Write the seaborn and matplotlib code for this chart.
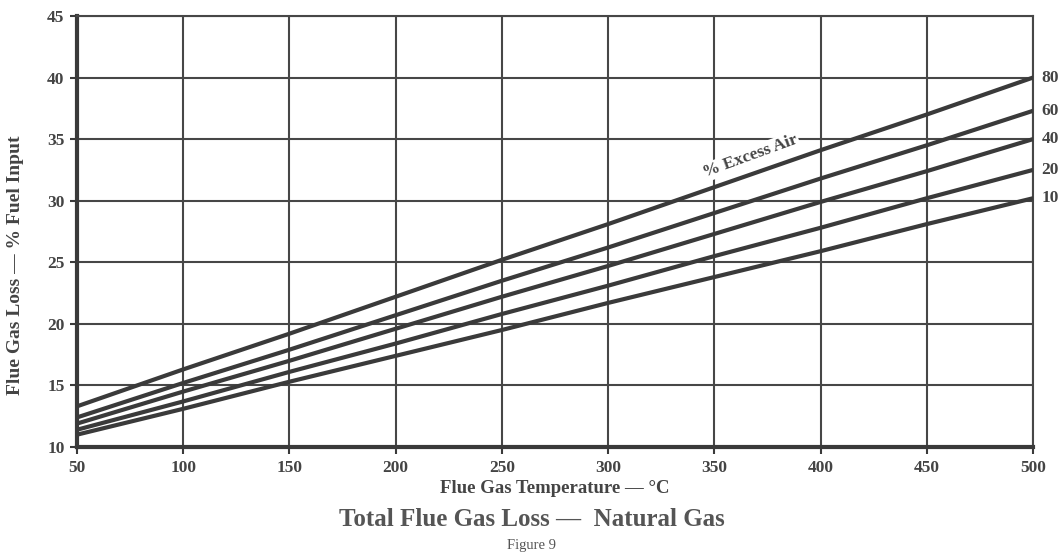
import numpy as np
import pandas as pd
import matplotlib
matplotlib.use("Agg")
import matplotlib.pyplot as plt
import seaborn as sns

# ---- data ----
temperature = [50, 100, 150, 200, 250, 300, 350, 400, 450, 500]
excess_air_levels = ["80", "60", "40", "20", "10"]
loss_80 = [13.3, 16.3, 19.2, 22.2, 25.2, 28.1, 31.1, 34.1, 37.0, 40.0]
loss_60 = [12.4, 15.2, 17.9, 20.7, 23.5, 26.2, 29.0, 31.8, 34.5, 37.3]
loss_40 = [11.9, 14.5, 17.0, 19.6, 22.2, 24.7, 27.3, 29.9, 32.4, 35.0]
loss_20 = [11.4, 13.7, 16.1, 18.4, 20.8, 23.1, 25.5, 27.8, 30.2, 32.5]
loss_10 = [11.0, 13.1, 15.3, 17.4, 19.5, 21.7, 23.8, 25.9, 28.1, 30.2]
x_ticks = [50, 100, 150, 200, 250, 300, 350, 400, 450, 500]
y_ticks = [10, 15, 20, 25, 30, 35, 40, 45]

series = {"80": loss_80, "60": loss_60, "40": loss_40, "20": loss_20, "10": loss_10}
df = pd.concat(
    [pd.DataFrame({"temp": temperature, "loss": vals, "air": k}) for k, vals in series.items()],
    ignore_index=True,
)

sns.set_theme(style="white")
plt.rcParams["font.family"] = ["Liberation Serif", "DejaVu Serif"]

ink = "#3a3a3a"
txt = "#444444"

fig = plt.figure(figsize=(10.63, 5.57), dpi=100)
ax = fig.add_axes([0.0724, 0.1975, 0.8994, 0.7738])

ax.set_xlim(50, 500)
ax.set_ylim(10, 45)
ax.set_xticks(x_ticks)
ax.set_yticks(y_ticks)
ax.grid(True, color="#474747", linewidth=1.5)
ax.set_axisbelow(True)

sns.lineplot(
    data=df, x="temp", y="loss", hue="air",
    palette={k: ink for k in excess_air_levels},
    linewidth=3.0, legend=False, ax=ax, zorder=3,
)

for sp in ["top", "right"]:
    ax.spines[sp].set_color("#474747")
    ax.spines[sp].set_linewidth(1.5)
for sp in ["left", "bottom"]:
    ax.spines[sp].set_color("#3a3a3a")
    ax.spines[sp].set_linewidth(3.0)

ax.tick_params(axis="both", which="major", direction="out", length=5, width=1.5,
               color="#3a3a3a", labelcolor=txt, labelsize=12.5)
ax.tick_params(axis="x", pad=4.5)
ax.tick_params(axis="y", pad=4)
ax.tick_params(axis="both", bottom=True, left=True)
for lab in ax.get_xticklabels() + ax.get_yticklabels():
    lab.set_fontweight("bold")

ax.set_xlabel("Flue Gas Temperature — °C", fontsize=13.5, fontweight="bold",
              color=txt, labelpad=3)
ax.set_ylabel("Flue Gas Loss — % Fuel Input", fontsize=14, fontweight="bold",
              color=txt)
ax.yaxis.set_label_coords(-0.055, 0.422)

# right-hand series labels
for k, vals in series.items():
    ax.annotate(k, xy=(temperature[-1], vals[-1]), xytext=(6, 0),
                textcoords="offset points", ha="left", va="center",
                fontsize=12.5, fontweight="bold", color=txt, annotation_clip=False)

# "% Excess Air" label along the top line
ax.text(367, 33.6, "% Excess Air", rotation=20, rotation_mode="anchor",
        ha="center", va="center", fontsize=12.5, fontweight="bold", color=txt,
        zorder=4, bbox=dict(facecolor="white", edgecolor="none", pad=1.0))

fig.text(0.5, 1 - 520 / 557, "Total Flue Gas Loss —  Natural Gas", ha="center", va="center",
         fontsize=18, fontweight="bold", color="#555555")
fig.text(0.5, 1 - 545 / 557, "Figure 9", ha="center", va="center",
         fontsize=10.5, color="#555555")

fig.savefig("out.png", dpi=100, facecolor="white")
